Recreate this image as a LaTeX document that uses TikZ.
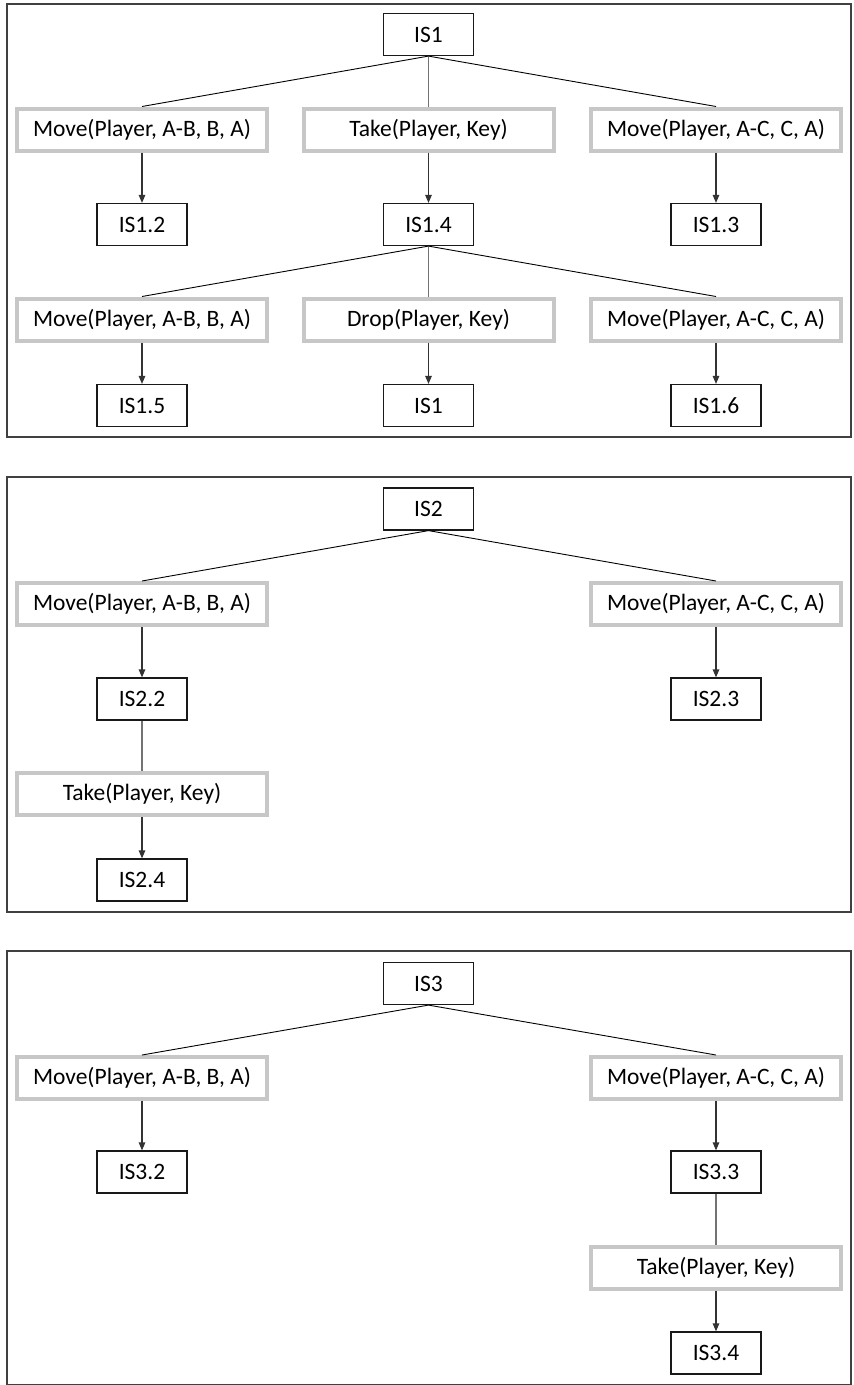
\documentclass[tikz,border=0pt]{standalone}
\usepackage{fontspec}
\setmainfont{Carlito}
\usetikzlibrary{arrows.meta}
\begin{document}
\begin{tikzpicture}[x=1pt,y=-1pt,
  state/.style={draw=black!90, line width=1.2pt, fill=white,
    minimum width=90pt, minimum height=42pt, inner sep=0pt,
    font=\fontsize{23.5}{26}\selectfont},
  act/.style={draw=black!22, line width=4pt, fill=white,
    minimum width=250pt, minimum height=42pt, inner sep=0pt,
    font=\fontsize{23.5}{26}\selectfont},
  panel/.style={draw=black!75, line width=2pt},
  branch/.style={draw=black, line width=0.9pt},
  stem/.style={draw=black!55, line width=1.2pt},
  flow/.style={draw=black!80, line width=1.2pt, -{Triangle[length=8pt,width=6.5pt]}},
]
\path[use as bounding box] (0,0) rectangle (854,1385);

% ---------- tree of IS1 ----------
\draw[panel] (6.5,3.5) rectangle (851,437);
\node[state] (r1) at (428.5,34.5) {IS1};
\node[act] (r1a) at (142,129.5) {Move(Player, A-B, B, A)};
\node[act] (r1b) at (428.5,129.5) {Take(Player, Key)};
\node[act] (r1c) at (716,129.5) {Move(Player, A-C, C, A)};
\node[state] (s12) at (142,224.5) {IS1.2};
\node[state] (s14) at (428.5,224.5) {IS1.4};
\node[state] (s13) at (716,224.5) {IS1.3};
\node[act] (r14a) at (142,319.5) {Move(Player, A-B, B, A)};
\node[act] (r14b) at (428.5,319.5) {Drop(Player, Key)};
\node[act] (r14c) at (716,319.5) {Move(Player, A-C, C, A)};
\node[state] (s15) at (142,405.5) {IS1.5};
\node[state] (s11) at (428.5,405.5) {IS1};
\node[state] (s16) at (716,405.5) {IS1.6};

\draw[branch] (r1.south) -- (r1a.north);
\draw[stem] (r1.south) -- (r1b.north);
\draw[branch] (r1.south) -- (r1c.north);
\draw[flow] (r1a) -- (s12);
\draw[flow] (r1b) -- (s14);
\draw[flow] (r1c) -- (s13);
\draw[branch] (s14.south) -- (r14a.north);
\draw[stem] (s14.south) -- (r14b.north);
\draw[branch] (s14.south) -- (r14c.north);
\draw[flow] (r14a) -- (s15);
\draw[flow] (r14b) -- (s11);
\draw[flow] (r14c) -- (s16);

% ---------- tree of IS2 ----------
\draw[panel] (6.5,477) rectangle (851,912);
\node[state] (r2) at (428.5,509) {IS2};
\node[act] (r2a) at (142,604) {Move(Player, A-B, B, A)};
\node[act] (r2c) at (716,604) {Move(Player, A-C, C, A)};
\node[state] (s22) at (142,699) {IS2.2};
\node[state] (s23) at (716,699) {IS2.3};
\node[act] (r22) at (142,794) {Take(Player, Key)};
\node[state] (s24) at (142,880) {IS2.4};

\draw[branch] (r2.south) -- (r2a.north);
\draw[branch] (r2.south) -- (r2c.north);
\draw[flow] (r2a) -- (s22);
\draw[flow] (r2c) -- (s23);
\draw[stem] (s22) -- (r22);
\draw[flow] (r22) -- (s24);

% ---------- tree of IS3 ----------
\draw[panel] (6.5,951) rectangle (851,1384.5);
\node[state] (r3) at (428.5,983.5) {IS3};
\node[act] (r3a) at (142,1078) {Move(Player, A-B, B, A)};
\node[act] (r3c) at (716,1078) {Move(Player, A-C, C, A)};
\node[state] (s32) at (142,1172) {IS3.2};
\node[state] (s33) at (716,1172) {IS3.3};
\node[act] (r33) at (716,1267.5) {Take(Player, Key)};
\node[state] (s34) at (716,1353) {IS3.4};

\draw[branch] (r3.south) -- (r3a.north);
\draw[branch] (r3.south) -- (r3c.north);
\draw[flow] (r3a) -- (s32);
\draw[flow] (r3c) -- (s33);
\draw[stem] (s33) -- (r33);
\draw[flow] (r33) -- (s34);
\end{tikzpicture}
\end{document}
